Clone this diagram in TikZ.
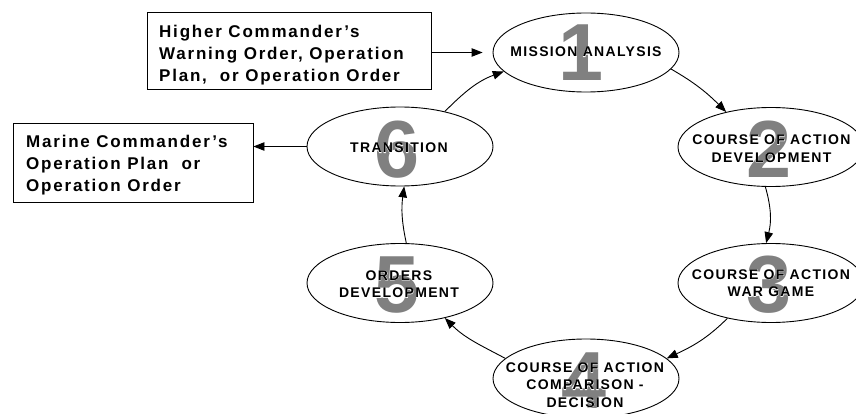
\documentclass[tikz,border=0pt]{standalone}
\usepackage{fontspec}
\setmainfont{Liberation Sans}
\newfontfamily\stagefont[LetterSpace=9.5]{Liberation Sans}
\newfontfamily\stagehalofont[LetterSpace=9.5,FakeBold=3]{Liberation Sans}
\newfontfamily\boxfont[LetterSpace=10.5]{Liberation Sans}
\usetikzlibrary{shapes.geometric,arrows.meta}
\definecolor{digitgray}{RGB}{128,128,128}
\tikzset{
  stage/.style={ellipse, draw, line width=0.9pt, fill=white, minimum width=186pt, minimum height=79pt, inner sep=0pt},
  stagetext/.style={align=center, inner sep=0pt, font=\stagefont\bfseries\fontsize{14}{17.5}\selectfont},
  stagehalo/.style={align=center, inner sep=0pt, text=white, font=\stagehalofont\bfseries\fontsize{14}{17.5}\selectfont},
  digit/.style={inner sep=0pt, text=digitgray, font=\bfseries\fontsize{81}{81}\selectfont},
  cmdbox/.style={draw, line width=0.9pt, inner sep=0pt},
  boxtext/.style={align=left, inner sep=0pt, font=\boxfont\bfseries\fontsize{17}{22}\selectfont},
  flow/.style={line width=0.9pt, -{Triangle[length=11pt,width=8.5pt]}},
}
\begin{document}
\begin{tikzpicture}[x=1pt,y=1pt]
\useasboundingbox (0,0) rectangle (856,413);
\clip (0,0) rectangle (856,413);
% stages
\node[stage] (e1) at (586,360.5) {};
\node[stage] (e2) at (771,266) {};
\node[stage] (e3) at (771,130) {};
\node[stage] (e4) at (586,34.5) {};
\node[stage] (e5) at (400,130) {};
\node[stage] (e6) at (400,266.5) {};
% big digits
\node[digit] (d1) at (581.5,360.5) {1};
\node[digit] (d2) at (769,264) {2};
\node[digit] (d3) at (769,128.5) {3};
\node[digit] (d4) at (584,32) {4};
\node[digit] (d5) at (397,127.5) {5};
\node[digit] (d6) at (397,263.5) {6};
% white halos behind the stage labels
\node[stagehalo] (h1) at (586,361) {MISSION ANALYSIS};
\node[stagehalo] (h2) at (771.5,264.5) {COURSE OF ACTION\\DEVELOPMENT};
\node[stagehalo] (h3) at (771,130) {COURSE OF ACTION\\WAR GAME};
\node[stagehalo] (h4) at (585,28) {COURSE OF ACTION\\COMPARISON -\\DECISION};
\node[stagehalo] (h5) at (399,129) {ORDERS\\DEVELOPMENT};
\node[stagehalo] (h6) at (399,265) {TRANSITION};
% stage labels
\node[stagetext] (t1) at (586,361) {MISSION ANALYSIS};
\node[stagetext] (t2) at (771.5,264.5) {COURSE OF ACTION\\DEVELOPMENT};
\node[stagetext] (t3) at (771,130) {COURSE OF ACTION\\WAR GAME};
\node[stagetext] (t4) at (585,28) {COURSE OF ACTION\\COMPARISON -\\DECISION};
\node[stagetext] (t5) at (399,129) {ORDERS\\DEVELOPMENT};
\node[stagetext] (t6) at (399,265) {TRANSITION};
% boxes
\node[cmdbox, minimum width=284pt, minimum height=77pt] (b1) at (289,362.5) {};
\node[boxtext, anchor=north west] (bt1) at (159,388) {Higher Commander’s\\Warning Order, Operation\\Plan,~ or Operation Order};
\node[cmdbox, minimum width=240pt, minimum height=79pt] (b2) at (133,250.5) {};
\node[boxtext, anchor=north west] (bt2) at (26,278) {Marine Commander’s\\Operation Plan~ or\\Operation Order};
% connectors
\draw[flow, shorten >=10pt] (b1.east |- e1.west) -- (e1.west);
\draw[flow] (e6.west) -- (e6.west -| b2.east);
\draw[flow] (e1.-11) to[out=-30,in=135] (e2.142);
\draw[flow] (e2.-98) to[bend left=15] (e3.97);
\draw[flow] (e3.-141.5) to[out=225,in=25] (e4.14);
\draw[flow] (e4.166) to[out=152,in=-45] (e5.-38);
\draw[flow] (e5.81) to[bend left=10] (e6.-84);
\draw[flow] (e6.38) to[out=45,in=200] (e1.193);
\end{tikzpicture}
\end{document}
